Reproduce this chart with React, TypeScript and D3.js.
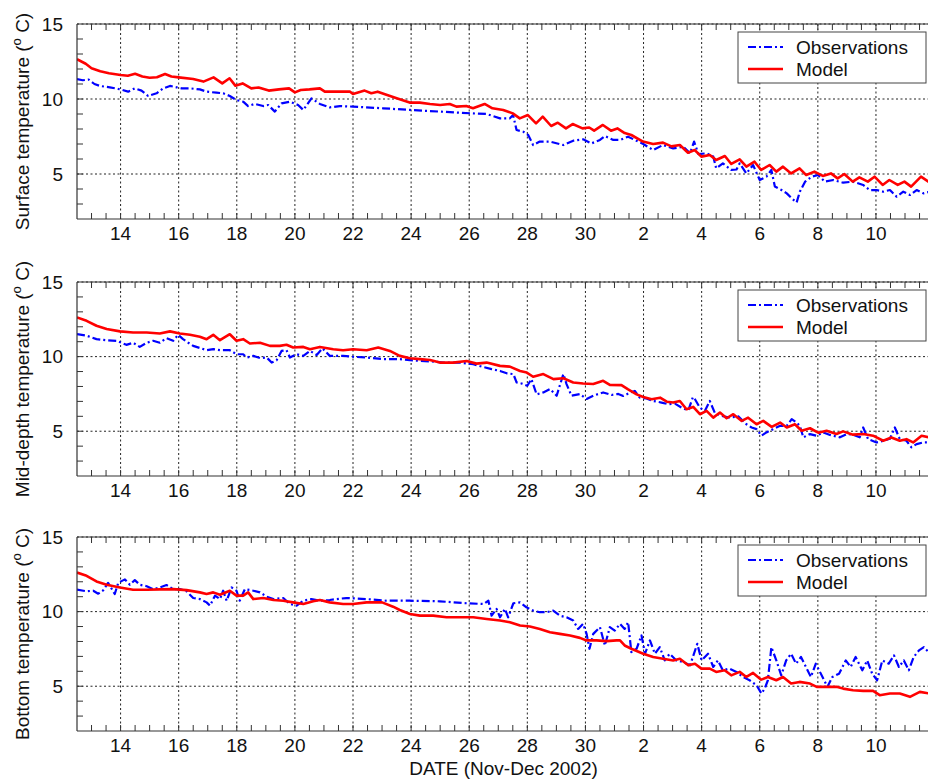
import React from 'react';
import * as d3 from 'd3';

// Axis ticks and labels
const dayTicks = [14, 16, 18, 20, 22, 24, 26, 28, 30, 32, 34, 36, 38, 40];
const dayTickLabels = ['14', '16', '18', '20', '22', '24', '26', '28', '30', '2', '4', '6', '8', '10'];
const tempTicks = [5, 10, 15];
const panelTitles = ['Surface temperature', 'Mid-depth temperature', 'Bottom temperature'];
const seriesNames = ['Observations', 'Model'];

// [day since 1 Nov 2002, temperature in deg C]
const surfaceModel: [number, number][] = [
  [12.5, 12.65], [12.8, 12.35], [13.0, 12.05], [13.3, 11.85], [13.6, 11.72], [14.0, 11.6], [14.25, 11.55], [14.5, 11.68],
  [14.75, 11.5], [15.0, 11.42], [15.25, 11.45], [15.53, 11.67], [15.75, 11.5], [16.0, 11.44], [16.5, 11.33], [16.85, 11.16],
  [17.2, 11.44], [17.5, 11.04], [17.75, 11.38], [17.95, 10.89], [18.2, 11.04], [18.5, 10.71], [18.75, 10.77], [19.1, 10.56],
  [19.45, 10.64], [19.8, 10.71], [20.0, 10.44], [20.2, 10.6], [20.5, 10.64], [20.86, 10.71], [21.03, 10.49], [21.5, 10.5],
  [21.9, 10.49], [22.0, 10.33], [22.4, 10.56], [22.63, 10.38], [22.85, 10.49], [23.15, 10.29], [23.53, 10.04], [23.95, 9.76],
  [24.3, 9.76], [24.65, 9.67], [25.0, 9.6], [25.33, 9.67], [25.56, 9.49], [25.9, 9.53], [26.13, 9.38], [26.53, 9.67],
  [26.8, 9.38], [27.17, 9.27], [27.5, 9.04], [27.74, 8.71], [28.02, 8.93], [28.3, 8.38], [28.53, 8.82], [28.82, 8.2],
  [29.05, 8.42], [29.33, 8.04], [29.56, 8.33], [29.9, 8.04], [30.13, 8.1], [30.3, 7.89], [30.6, 8.27], [30.88, 7.89],
  [31.1, 8.04], [31.35, 7.73], [31.58, 7.6], [31.98, 7.16], [32.33, 7.0], [32.67, 7.09], [32.96, 6.84], [33.25, 6.93],
  [33.53, 6.42], [33.76, 6.6], [33.99, 6.16], [34.28, 6.27], [34.5, 5.93], [34.8, 6.2], [35.02, 5.67], [35.31, 5.98],
  [35.54, 5.49], [35.82, 5.82], [36.05, 5.27], [36.34, 5.6], [36.57, 5.16], [36.8, 5.49], [37.08, 5.04], [37.37, 5.38],
  [37.6, 4.93], [37.88, 5.16], [38.17, 4.87], [38.45, 5.04], [38.68, 4.71], [38.91, 5.0], [39.2, 4.49], [39.43, 4.78],
  [39.72, 4.49], [39.95, 4.82], [40.23, 4.27], [40.46, 4.6], [40.75, 4.27], [40.98, 4.49], [41.21, 4.16], [41.55, 4.82],
  [41.86, 4.42],
];

const surfaceObs: [number, number][] = [
  [12.5, 11.33], [12.7, 11.25], [12.9, 11.3], [13.1, 11.0], [13.29, 10.87], [13.63, 10.78], [14.0, 10.64], [14.26, 10.49],
  [14.49, 10.71], [14.72, 10.56], [14.95, 10.2], [15.24, 10.38], [15.47, 10.71], [15.7, 10.87], [15.93, 10.78], [16.1, 10.71],
  [16.39, 10.71], [16.73, 10.64], [16.96, 10.49], [17.3, 10.42], [17.53, 10.38], [17.76, 10.2], [17.99, 9.93], [18.22, 9.82],
  [18.39, 9.53], [18.62, 9.67], [18.91, 9.53], [19.08, 9.6], [19.31, 9.16], [19.54, 9.71], [19.83, 9.82], [20.11, 9.6],
  [20.29, 9.27], [20.57, 10.04], [20.86, 9.67], [21.2, 9.44], [21.55, 9.53], [22.0, 9.49], [23.04, 9.38], [23.96, 9.27],
  [24.99, 9.16], [26.13, 9.04], [26.6, 9.0], [27.06, 8.71], [27.4, 8.71], [27.51, 8.93], [27.63, 7.93], [27.86, 7.82],
  [28.03, 7.6], [28.2, 6.93], [28.43, 7.16], [28.78, 7.16], [29.24, 6.93], [29.58, 7.22], [29.92, 7.31], [30.21, 7.04],
  [30.5, 7.27], [30.67, 7.53], [30.96, 7.27], [31.19, 7.27], [31.47, 7.49], [31.7, 7.27], [31.99, 7.0], [32.33, 6.6],
  [32.67, 6.93], [33.02, 6.71], [33.37, 6.82], [33.6, 6.38], [33.74, 7.16], [33.89, 6.33], [34.17, 6.38], [34.4, 6.16],
  [34.5, 5.38], [34.73, 5.71], [35.02, 5.27], [35.2, 5.3], [35.31, 5.71], [35.54, 5.04], [35.77, 5.6], [36.0, 4.6],
  [36.23, 4.82], [36.4, 5.27], [36.52, 4.16], [36.75, 3.93], [36.93, 3.71], [37.1, 3.38], [37.27, 3.1], [37.38, 3.82],
  [37.56, 4.49], [37.79, 4.82], [38.01, 4.93], [38.24, 4.49], [38.53, 4.6], [38.87, 4.42], [39.21, 4.49], [39.56, 4.27],
  [39.79, 3.93], [40.02, 3.93], [40.25, 3.82], [40.48, 3.93], [40.71, 3.49], [40.94, 3.82], [41.17, 3.6], [41.4, 3.93],
  [41.63, 3.71], [41.86, 3.82],
];

const midModel: [number, number][] = [
  [12.5, 12.63], [12.83, 12.4], [13.17, 12.07], [13.52, 11.85], [13.98, 11.69], [14.43, 11.62], [14.9, 11.62], [15.35, 11.55],
  [15.7, 11.69], [16.04, 11.55], [16.39, 11.46], [16.73, 11.33], [16.96, 11.17], [17.19, 11.46], [17.42, 11.1], [17.76, 11.5],
  [17.99, 11.06], [18.22, 11.17], [18.45, 10.88], [18.8, 10.93], [19.14, 10.72], [19.48, 10.72], [19.71, 10.79], [19.94, 10.61],
  [20.29, 10.65], [20.52, 10.49], [20.86, 10.65], [21.32, 10.49], [21.66, 10.43], [22.0, 10.49], [22.47, 10.43], [22.87, 10.61],
  [23.27, 10.38], [23.61, 10.05], [23.96, 9.89], [24.3, 9.83], [24.65, 9.77], [24.99, 9.6], [25.45, 9.6], [25.91, 9.71],
  [26.25, 9.53], [26.6, 9.6], [27.06, 9.38], [27.4, 9.33], [27.75, 9.04], [27.98, 8.93], [28.2, 8.65], [28.55, 8.83],
  [28.9, 8.49], [29.24, 8.55], [29.58, 8.27], [29.92, 8.2], [30.27, 8.16], [30.61, 8.38], [30.84, 8.1], [31.24, 8.09],
  [31.47, 7.8], [31.76, 7.47], [31.99, 7.29], [32.28, 7.14], [32.57, 7.25], [32.8, 6.98], [33.02, 6.92], [33.25, 7.03],
  [33.48, 6.47], [33.71, 6.63], [33.94, 6.14], [34.17, 6.36], [34.4, 5.91], [34.63, 6.25], [34.86, 5.87], [35.09, 6.14],
  [35.38, 5.69], [35.6, 5.91], [35.89, 5.47], [36.12, 5.69], [36.41, 5.29], [36.7, 5.58], [36.93, 5.25], [37.21, 5.47],
  [37.44, 5.03], [37.73, 5.2], [38.01, 4.9], [38.3, 5.03], [38.64, 4.81], [38.87, 4.99], [39.21, 4.77], [39.56, 4.81],
  [39.9, 4.7], [40.25, 4.36], [40.53, 4.58], [40.82, 4.36], [41.05, 4.47], [41.28, 4.25], [41.57, 4.7], [41.86, 4.58],
];

const midObs: [number, number][] = [
  [12.5, 11.51], [12.83, 11.4], [13.17, 11.17], [13.52, 11.1], [13.86, 11.06], [14.2, 10.79], [14.43, 10.93], [14.66, 10.65],
  [14.9, 10.93], [15.12, 11.06], [15.35, 10.93], [15.58, 11.24], [15.81, 11.06], [15.98, 11.46], [16.15, 11.17], [16.33, 10.93],
  [16.5, 10.72], [16.73, 10.58], [16.96, 10.43], [17.19, 10.5], [17.42, 10.43], [17.76, 10.43], [17.99, 10.16], [18.22, 10.16],
  [18.34, 9.94], [18.57, 10.05], [18.8, 9.9], [19.03, 9.94], [19.2, 9.6], [19.37, 9.75], [19.54, 10.38], [19.71, 10.43],
  [19.83, 9.94], [20.06, 10.16], [20.29, 10.05], [20.52, 10.38], [20.75, 10.11], [20.95, 10.55], [21.2, 10.05], [21.66, 10.05],
  [22.0, 9.99], [22.47, 9.94], [23.04, 9.83], [23.61, 9.83], [23.96, 9.77], [24.3, 9.71], [24.76, 9.67], [25.1, 9.6],
  [25.68, 9.6], [26.14, 9.49], [26.43, 9.33], [26.77, 9.16], [27.06, 9.04], [27.29, 8.88], [27.52, 8.83], [27.63, 8.27],
  [27.8, 8.2], [28.0, 8.05], [28.14, 8.49], [28.32, 7.47], [28.55, 7.6], [28.78, 7.83], [29.01, 7.38], [29.24, 8.83],
  [29.35, 8.16], [29.52, 7.38], [29.81, 7.49], [30.04, 7.16], [30.27, 7.38], [30.61, 7.6], [30.9, 7.43], [31.13, 7.5],
  [31.3, 7.36], [31.53, 7.58], [31.7, 7.7], [31.87, 7.25], [32.1, 7.2], [32.33, 7.03], [32.62, 6.92], [32.85, 6.81],
  [33.08, 6.85], [33.31, 6.58], [33.54, 6.4], [33.7, 7.29], [33.77, 7.14], [33.94, 6.58], [34.11, 6.36], [34.28, 7.03],
  [34.45, 6.25], [34.68, 6.03], [34.97, 5.91], [35.26, 6.0], [35.54, 5.47], [35.72, 5.25], [35.89, 5.14], [36.06, 4.7],
  [36.23, 4.92], [36.46, 5.14], [36.7, 5.36], [36.93, 5.36], [37.1, 5.81], [37.27, 5.58], [37.38, 5.36], [37.5, 4.59],
  [37.73, 4.81], [37.96, 4.7], [38.19, 4.92], [38.42, 4.75], [38.76, 4.59], [38.99, 4.81], [39.21, 4.77], [39.44, 4.59],
  [39.56, 5.25], [39.73, 4.47], [40.02, 4.25], [40.25, 4.36], [40.48, 4.5], [40.65, 5.25], [40.82, 4.47], [41.05, 4.36],
  [41.22, 3.92], [41.4, 4.14], [41.63, 4.25], [41.86, 4.25],
];

const bottomModel: [number, number][] = [
  [12.5, 12.62], [12.83, 12.4], [13.17, 12.02], [13.52, 11.8], [13.98, 11.62], [14.43, 11.47], [14.9, 11.47], [15.35, 11.49],
  [15.81, 11.51], [16.27, 11.44], [16.73, 11.29], [16.96, 11.18], [17.19, 11.29], [17.42, 11.13], [17.76, 11.4], [17.99, 11.07],
  [18.22, 11.07], [18.39, 11.29], [18.57, 10.84], [18.91, 10.91], [19.26, 10.78], [19.6, 10.73], [19.94, 10.62], [20.29, 10.51],
  [20.63, 10.69], [20.86, 10.78], [21.2, 10.62], [21.66, 10.51], [22.0, 10.51], [22.47, 10.62], [23.0, 10.62], [23.38, 10.33],
  [23.61, 10.11], [23.96, 9.84], [24.3, 9.73], [24.76, 9.73], [25.22, 9.62], [25.68, 9.62], [26.14, 9.62], [26.6, 9.51],
  [27.06, 9.4], [27.4, 9.29], [27.75, 9.07], [28.09, 9.0], [28.43, 8.84], [28.78, 8.62], [29.12, 8.51], [29.47, 8.4],
  [29.81, 8.24], [30.04, 8.07], [30.38, 8.07], [30.73, 8.02], [31.07, 8.07], [31.19, 8.07], [31.35, 7.73], [31.58, 7.51],
  [31.99, 7.18], [32.33, 6.96], [32.67, 6.84], [33.02, 6.73], [33.25, 6.84], [33.54, 6.4], [33.77, 6.51], [33.99, 6.18],
  [34.28, 6.18], [34.5, 5.96], [34.79, 6.07], [35.02, 5.73], [35.31, 5.96], [35.54, 5.62], [35.77, 5.89], [36.05, 5.44],
  [36.28, 5.62], [36.57, 5.4], [36.8, 5.62], [37.08, 5.18], [37.37, 5.29], [37.73, 5.18], [37.96, 4.96], [38.3, 4.96],
  [38.64, 4.96], [38.87, 4.84], [39.21, 4.73], [39.56, 4.69], [39.9, 4.69], [40.13, 4.4], [40.48, 4.51], [40.82, 4.51],
  [41.17, 4.29], [41.51, 4.62], [41.86, 4.51],
];

const bottomObs: [number, number][] = [
  [12.5, 11.47], [12.83, 11.36], [13.06, 11.4], [13.23, 11.2], [13.4, 11.42], [13.57, 11.93], [13.8, 11.18], [13.92, 11.93],
  [14.15, 12.16], [14.32, 11.8], [14.49, 12.11], [14.66, 11.8], [14.9, 11.7], [15.12, 11.51], [15.35, 11.62], [15.58, 11.78],
  [15.81, 11.51], [16.04, 11.51], [16.27, 11.36], [16.5, 10.91], [16.73, 10.84], [16.96, 10.62], [17.08, 10.4], [17.25, 11.07],
  [17.42, 10.84], [17.53, 11.4], [17.65, 10.73], [17.82, 11.62], [17.99, 11.4], [18.1, 10.73], [18.28, 11.51], [18.57, 11.4],
  [18.8, 11.29], [19.03, 11.0], [19.26, 10.84], [19.6, 10.91], [19.83, 10.51], [20.06, 10.4], [20.29, 10.73], [20.57, 10.84],
  [20.86, 10.73], [21.2, 10.78], [21.43, 10.84], [21.77, 10.91], [22.47, 10.84], [23.15, 10.73], [23.96, 10.73], [24.99, 10.69],
  [25.91, 10.56], [26.49, 10.51], [26.66, 10.73], [26.77, 9.73], [26.94, 10.18], [27.06, 9.62], [27.23, 10.18], [27.34, 9.62],
  [27.52, 10.56], [27.75, 10.62], [27.97, 10.29], [28.2, 10.07], [28.43, 9.96], [28.66, 9.96], [28.89, 10.07], [29.12, 9.73],
  [29.35, 9.62], [29.58, 9.4], [29.75, 8.84], [29.92, 9.18], [30.04, 8.51], [30.14, 7.51], [30.27, 8.51], [30.5, 8.96],
  [30.67, 7.73], [30.84, 8.96], [31.01, 8.73], [31.19, 9.18], [31.35, 8.84], [31.47, 9.29], [31.58, 7.29], [31.76, 7.51],
  [31.93, 8.4], [32.05, 7.18], [32.22, 8.07], [32.39, 7.18], [32.56, 7.62], [32.73, 6.73], [32.9, 7.18], [33.13, 6.73],
  [33.36, 6.62], [33.6, 6.4], [33.85, 7.84], [34.0, 6.73], [34.22, 7.18], [34.4, 6.29], [34.56, 6.73], [34.73, 6.07],
  [34.96, 6.18], [35.2, 5.96], [35.42, 5.62], [35.65, 5.4], [35.89, 5.07], [36.06, 4.51], [36.17, 4.84], [36.28, 5.4],
  [36.4, 7.62], [36.57, 6.73], [36.74, 5.73], [36.91, 6.73], [37.08, 7.18], [37.25, 6.51], [37.42, 6.96], [37.59, 6.29],
  [37.76, 5.62], [37.93, 6.51], [38.16, 5.62], [38.33, 4.96], [38.5, 5.62], [38.73, 5.84], [38.96, 6.73], [39.13, 6.29],
  [39.3, 6.96], [39.53, 6.07], [39.7, 6.73], [39.87, 5.84], [40.04, 5.4], [40.22, 6.73], [40.44, 6.51], [40.62, 7.07],
  [40.79, 6.29], [40.96, 6.73], [41.13, 6.07], [41.3, 6.96], [41.48, 7.4], [41.65, 7.62], [41.86, 7.18],
];

const observationSeries = [surfaceObs, midObs, bottomObs];
const modelSeries = [surfaceModel, midModel, bottomModel];

// Layout
const W = 928;
const H = 780;
const LEFT = 77;
const RIGHT = 930;
const panelBoxes = [
  { top: 24, bottom: 219 },
  { top: 282, bottom: 476 },
  { top: 537, bottom: 731 },
];
const FONT = "'Liberation Sans', Arial, Helvetica, sans-serif";
const OBS_COLOR = '#0000ff';
const MODEL_COLOR = '#ff0000';
const OBS_DASH = '8,3,2,3';

const x = d3.scaleLinear().domain([12.5, 41.86]).range([LEFT, RIGHT]);
const minorDays = d3.range(13, 41.9, 0.5);
const minorTemps = d3.range(3, 15, 1);

function Panel({ index }: { index: number }) {
  const { top, bottom } = panelBoxes[index];
  const y = d3.scaleLinear().domain([2, 15]).range([bottom, top]);
  const line = d3
    .line<[number, number]>()
    .x((d) => x(d[0]))
    .y((d) => y(d[1]));
  const clipId = `plot-clip-${index}`;
  const midY = (top + bottom) / 2;
  const legendX = 738;
  const legendY = top + 8;

  return (
    <g>
      <defs>
        <clipPath id={clipId}>
          <rect x={LEFT} y={top} width={RIGHT - LEFT} height={bottom - top} />
        </clipPath>
      </defs>

      {/* dotted grid */}
      {dayTicks.map((d) => (
        <line key={`gx${d}`} x1={x(d)} x2={x(d)} y1={top} y2={bottom} stroke="#222" strokeWidth={1} strokeDasharray="2,2.5" />
      ))}
      {tempTicks.map((t) => (
        <line key={`gy${t}`} x1={LEFT} x2={RIGHT} y1={y(t)} y2={y(t)} stroke="#222" strokeWidth={1} strokeDasharray="2,2.5" />
      ))}

      {/* series */}
      <g clipPath={`url(#${clipId})`}>
        <path d={line(observationSeries[index]) || ''} fill="none" stroke={OBS_COLOR} strokeWidth={2.2} strokeDasharray={OBS_DASH} strokeLinejoin="round" />
        <path d={line(modelSeries[index]) || ''} fill="none" stroke={MODEL_COLOR} strokeWidth={2.6} strokeLinejoin="round" />
      </g>

      {/* frame and ticks */}
      <line x1={LEFT} x2={RIGHT} y1={top} y2={top} stroke="#333" strokeWidth={1.2} />
      <line x1={LEFT} x2={RIGHT} y1={bottom} y2={bottom} stroke="#333" strokeWidth={1.2} />
      <line x1={LEFT} x2={LEFT} y1={top} y2={bottom} stroke="#333" strokeWidth={1.2} />
      {minorDays.map((d) => (
        <g key={`tx${d}`}>
          <line x1={x(d)} x2={x(d)} y1={bottom} y2={bottom - 6} stroke="#333" strokeWidth={1} />
          <line x1={x(d)} x2={x(d)} y1={top} y2={top + 6} stroke="#333" strokeWidth={1} />
        </g>
      ))}
      {minorTemps.map((t) => (
        <line key={`ty${t}`} x1={LEFT} x2={LEFT + 6} y1={y(t)} y2={y(t)} stroke="#333" strokeWidth={1} />
      ))}

      {/* tick labels */}
      {dayTicks.map((d, i) => (
        <text key={`lx${d}`} x={x(d)} y={bottom + 21} textAnchor="middle" fontSize={19} fill="#111">
          {dayTickLabels[i]}
        </text>
      ))}
      {tempTicks.map((t) => (
        <text key={`ly${t}`} x={LEFT - 14} y={y(t)} textAnchor="end" dominantBaseline="central" fontSize={19} fill="#111">
          {t}
        </text>
      ))}

      {/* axis title */}
      <text transform={`translate(29,${midY}) rotate(-90)`} textAnchor="middle" fontSize={19} fill="#111">
        {panelTitles[index]} (
        <tspan fontSize={13} dy={-8}>o</tspan>
        <tspan dy={8}> C)</tspan>
      </text>

      {/* legend */}
      <rect x={legendX} y={legendY} width={188} height={51} fill="#fff" stroke="#444" strokeWidth={1} />
      <line x1={legendX + 10} x2={legendX + 45} y1={legendY + 15} y2={legendY + 15} stroke={OBS_COLOR} strokeWidth={2.2} strokeDasharray={OBS_DASH} />
      <line x1={legendX + 10} x2={legendX + 45} y1={legendY + 37} y2={legendY + 37} stroke={MODEL_COLOR} strokeWidth={2.6} />
      <text x={legendX + 58} y={legendY + 15} dominantBaseline="central" fontSize={19} fill="#111">
        {seriesNames[0]}
      </text>
      <text x={legendX + 58} y={legendY + 37} dominantBaseline="central" fontSize={19} fill="#111">
        {seriesNames[1]}
      </text>
    </g>
  );
}

export default function App() {
  return (
    <svg
      width={W}
      height={H}
      viewBox={`0 0 ${W} ${H}`}
      style={{ position: 'absolute', left: 0, top: 0, background: '#fff' }}
      fontFamily={FONT}
    >
      <rect width={W} height={H} fill="#fff" />
      {panelBoxes.map((_, i) => (
        <Panel key={i} index={i} />
      ))}
      <text x={(LEFT + RIGHT) / 2} y={775} textAnchor="middle" fontSize={19} fill="#111">
        DATE (Nov-Dec 2002)
      </text>
    </svg>
  );
}
